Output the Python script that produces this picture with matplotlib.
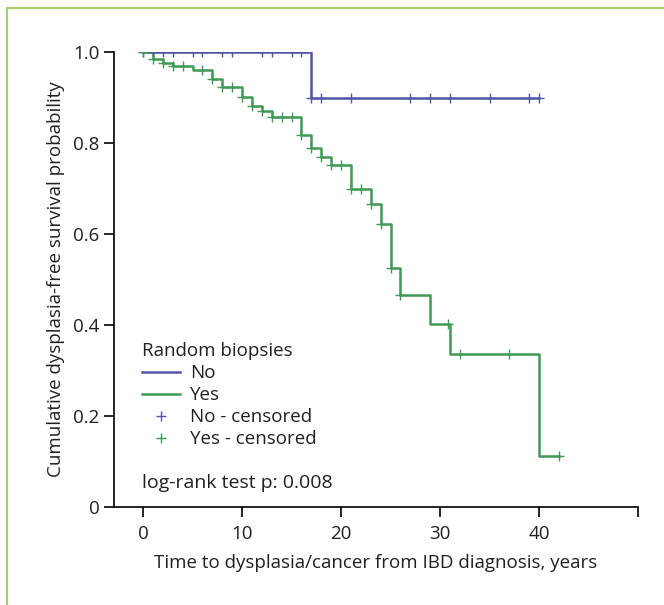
import numpy as np
import matplotlib
matplotlib.use("Agg")
import matplotlib.pyplot as plt
from matplotlib.lines import Line2D

plt.rcParams['font.family'] = ['Open Sans', 'DejaVu Sans']

# Kaplan-Meier steps (time in years, survival)
no_t = [0, 17, 40]
no_s = [1.0, 0.9, 0.9]
no_cens = [0, 1, 2, 3, 5, 6, 8, 9, 12, 13, 15, 16, 17, 18, 21, 27, 29, 31, 35, 39, 40]

yes_t = [0, 1, 2, 3, 5, 7, 8, 10, 11, 12, 13, 16, 17, 18, 19, 21, 23, 24, 25, 26, 29, 31, 40, 42]
yes_s = [1.0, 0.984, 0.975, 0.970, 0.960, 0.941, 0.924, 0.902, 0.881, 0.871, 0.858,
         0.818, 0.788, 0.770, 0.752, 0.699, 0.666, 0.622, 0.526, 0.467, 0.402, 0.336,
         0.113, 0.113]
yes_cens = [0, 1, 2, 3, 4, 6, 7, 8, 9, 10, 11, 12, 13, 14, 15, 16, 17, 18, 19, 20,
            21, 22, 23, 24, 25, 26, 30.8, 32, 37, 42]

blue = '#5257a5'
green = '#409a56'
txt = '#231f20'
fs = 13.5


def surv_at(times, surv, t):
    idx = np.searchsorted(times, t, side='right') - 1
    return np.array(surv)[idx]


fig = plt.figure(figsize=(6.64, 6.05), dpi=100)
ax = fig.add_axes([114/664, 1-507/605, 524/664, 455/605])

ax.step(no_t, no_s, where='post', color=blue, lw=1.8)
ax.step(yes_t, yes_s, where='post', color=green, lw=1.8)
ax.plot(no_cens, surv_at(no_t, no_s, no_cens), '+', color=blue, ms=7, mew=1.0)
ax.plot(yes_cens, surv_at(yes_t, yes_s, yes_cens), '+', color=green, ms=7, mew=1.0)

ax.set_xlim(-2.93, 50)
ax.set_ylim(0, 1.0)
ax.set_xticks([0, 10, 20, 30, 40, 50])
ax.set_xticklabels(['0', '10', '20', '30', '40', ''])
ax.set_yticks([0, 0.2, 0.4, 0.6, 0.8, 1.0])
ax.set_yticklabels(['0', '0.2', '0.4', '0.6', '0.8', '1.0'])
for s in ['top', 'right']:
    ax.spines[s].set_visible(False)
for s in ['left', 'bottom']:
    ax.spines[s].set_linewidth(1.2)
ax.tick_params(direction='out', length=7, width=1.2, labelsize=fs, colors='black',
               labelcolor=txt)
ax.tick_params(axis='x', pad=6)
ax.tick_params(axis='y', pad=3.6)
ax.set_xlabel('Time to dysplasia/cancer from IBD diagnosis, years', fontsize=fs,
              color=txt, labelpad=8)
ax.set_ylabel('Cumulative dysplasia-free survival probability', fontsize=fs,
              color=txt, labelpad=6)

handles = [Line2D([], [], color=blue, lw=1.8),
           Line2D([], [], color=green, lw=1.8),
           Line2D([], [], color=blue, ls='none', marker='+', ms=7, mew=1.0),
           Line2D([], [], color=green, ls='none', marker='+', ms=7, mew=1.0)]
labels = ['No', 'Yes', 'No - censored', 'Yes - censored']
leg = ax.legend(handles, labels, title='Random biopsies', loc='upper left',
                bbox_to_anchor=(28/524, (507-342)/455), frameon=False,
                fontsize=fs, title_fontsize=fs, alignment='left',
                handlelength=2.0, handletextpad=0.55, labelspacing=0.22,
                borderpad=0, borderaxespad=0)
for t in leg.get_texts():
    t.set_color(txt)
leg.get_title().set_color(txt)

ax.text(28/524, (507-483)/455, 'log-rank test p: 0.008', transform=ax.transAxes,
        fontsize=14, color=txt, va='center', ha='left')

# light green frame at left and top of the figure
frame = '#a6d16a'
fig.add_artist(Line2D([7/664, 7/664], [0, 1-8/605], color=frame, lw=1.5,
                      transform=fig.transFigure))
fig.add_artist(Line2D([7/664, 1], [1-8/605, 1-8/605], color=frame, lw=1.5,
                      transform=fig.transFigure))

fig.savefig('out.png', dpi=100)
